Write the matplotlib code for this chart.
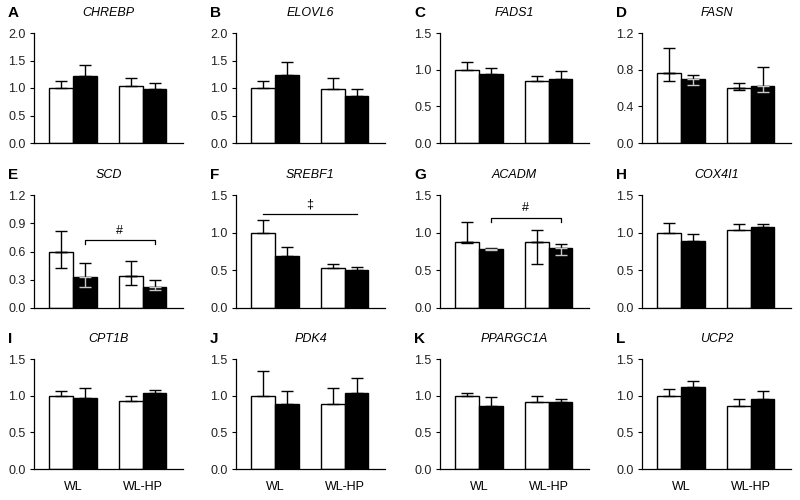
import matplotlib
matplotlib.use("Agg")
import matplotlib.pyplot as plt

plt.rcParams['font.family'] = ['Liberation Sans', 'DejaVu Sans']

letters = ["A", "B", "C", "D", "E", "F", "G", "H", "I", "J", "K", "L"]
genes = ["CHREBP", "ELOVL6", "FADS1", "FASN", "SCD", "SREBF1",
         "ACADM", "COX4I1", "CPT1B", "PDK4", "PPARGC1A", "UCP2"]
groups = ["WL", "WL-HP"]

# white bars (WL, WL-HP) and black bars (WL, WL-HP)
white_mean = [[1.00, 1.03], [1.00, 0.98], [1.00, 0.85], [0.76, 0.60],
              [0.60, 0.34], [1.00, 0.53], [0.87, 0.87], [1.00, 1.04],
              [1.00, 0.93], [1.00, 0.89], [1.00, 0.92], [1.00, 0.86]]
white_upper = [[1.12, 1.18], [1.12, 1.18], [1.11, 0.92], [1.04, 0.66],
               [0.82, 0.50], [1.17, 0.59], [1.14, 1.04], [1.13, 1.11],
               [1.07, 0.99], [1.34, 1.11], [1.04, 1.00], [1.09, 0.96]]
white_lower = [[None, None], [None, None], [None, None], [0.68, 0.58],
               [0.42, 0.24], [None, None], [0.86, 0.59], [None, None],
               [None, None], [None, None], [None, None], [None, None]]
black_mean = [[1.22, 0.98], [1.24, 0.85], [0.94, 0.87], [0.70, 0.62],
              [0.33, 0.22], [0.69, 0.50], [0.78, 0.80], [0.89, 1.08],
              [0.97, 1.03], [0.88, 1.03], [0.86, 0.92], [1.12, 0.96]]
black_upper = [[1.42, 1.10], [1.47, 0.99], [1.02, 0.98], [0.74, 0.83],
               [0.48, 0.30], [0.81, 0.55], [0.79, 0.85], [0.98, 1.12],
               [1.11, 1.08], [1.07, 1.24], [0.98, 0.95], [1.20, 1.06]]
black_lower = [[None, None], [None, None], [None, None], [0.63, 0.56],
               [0.22, 0.19], [None, None], [0.77, 0.71], [None, None],
               [None, None], [None, None], [None, None], [None, None]]
ymax = [2.0, 2.0, 1.5, 1.2, 1.2, 1.5, 1.5, 1.5, 1.5, 1.5, 1.5, 1.5]
ystep = [0.5, 0.5, 0.5, 0.4, 0.3, 0.5, 0.5, 0.5, 0.5, 0.5, 0.5, 0.5]

# significance annotations: panel index -> (symbol, y level)
sig_panels = {4: ("#", 0.72), 5: ("\u2021", 1.25), 6: ("#", 1.20)}

fig = plt.figure(figsize=(8, 5), dpi=100)
W, H = 800, 500
col_left = [34, 236, 440, 642]
ax_w = 149
row_top = [33, 195, 359]
row_bot = [143, 308, 469]

white_x = [1.15, 4.1]
black_x = [2.15, 5.1]

for i in range(12):
    r, c = divmod(i, 4)
    l = col_left[c]
    ax = fig.add_axes([l / W, 1 - row_bot[r] / H, ax_w / W, (row_bot[r] - row_top[r]) / H])
    ax.bar(white_x, white_mean[i], width=1.0, color="white", edgecolor="black", linewidth=1.0, zorder=2)
    ax.bar(black_x, black_mean[i], width=1.0, color="black", edgecolor="black", linewidth=1.0, zorder=2)
    for xs, means, ups, lows, lowcol in [(white_x, white_mean[i], white_upper[i], white_lower[i], "black"),
                                          (black_x, black_mean[i], black_upper[i], black_lower[i], "#c8c8c8")]:
        for x, m, u, lo in zip(xs, means, ups, lows):
            ax.errorbar([x], [m], yerr=[[0], [u - m]], fmt="none", ecolor="black",
                        elinewidth=1.0, capsize=4.5, capthick=1.0, zorder=3)
            if lo is not None:
                ax.errorbar([x], [m], yerr=[[m - lo], [0]], fmt="none", ecolor=lowcol,
                            elinewidth=1.0, capsize=4.5, capthick=1.0, zorder=3)
    ax.set_xlim(0, 6.3)
    ax.set_ylim(0, ymax[i])
    n = int(round(ymax[i] / ystep[i]))
    ticks = [k * ystep[i] for k in range(n + 1)]
    ax.set_yticks(ticks)
    ax.set_yticklabels([f"{t:.1f}" for t in ticks], fontsize=9, color="#222222")
    ax.tick_params(axis="y", length=3, width=0.8, pad=3)
    ax.set_xticks([])
    for s in ["top", "right"]:
        ax.spines[s].set_visible(False)
    ax.spines["left"].set_linewidth(0.9)
    ax.spines["bottom"].set_linewidth(0.9)

    if i in sig_panels:
        sym, yl = sig_panels[i]
        if sym == "#":
            x0, x1 = black_x[0], black_x[1]
            d = ymax[i] * 0.035
            ax.plot([x0, x0, x1, x1], [yl - d, yl, yl, yl - d], color="black", lw=0.9)
        else:
            x0, x1 = white_x[0], black_x[1]
            ax.plot([x0, x1], [yl, yl], color="black", lw=0.9)
        ax.text((x0 + x1) / 2, yl + ymax[i] * 0.03, sym, ha="center", va="bottom", fontsize=9)

    if r == 2:
        for gx, g in zip([(white_x[0] + black_x[0]) / 2, (white_x[1] + black_x[1]) / 2], groups):
            ax.text(gx, -0.16 * ymax[i], g, ha="center", va="center", fontsize=9,
                    transform=ax.transData)

    # panel letter and gene title
    fig.text((l - 26) / W, 1 - (row_top[r] - 20) / H, letters[i], fontsize=11,
             fontweight="bold", ha="left", va="center")
    fig.text((l + ax_w / 2) / W, 1 - (row_top[r] - 20) / H, genes[i], fontsize=9,
             fontstyle="italic", ha="center", va="center")

fig.savefig("out.png", dpi=100)
